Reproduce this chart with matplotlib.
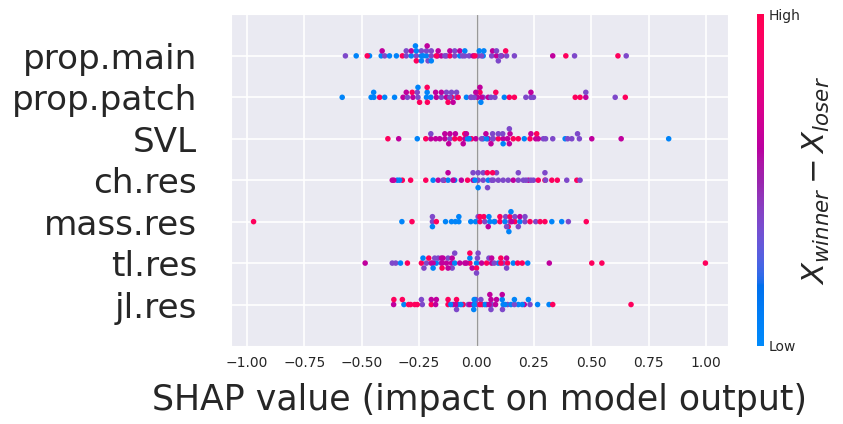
import numpy as np
import matplotlib
matplotlib.use("Agg")
import matplotlib.pyplot as plt
import seaborn as sns
from matplotlib.colors import LinearSegmentedColormap

sns.set_style("darkgrid")
plt.rcParams['font.family'] = ['DejaVu Sans']

# feature value levels (low -> high)
B, V, M, R = 0.05, 0.38, 0.62, 0.95

features = ["prop.main", "prop.patch", "SVL", "ch.res", "mass.res", "tl.res", "jl.res"]

shap_prop_main = [-0.571, -0.524, -0.466, -0.415, -0.400, -0.379, -0.349, -0.323, -0.306, -0.284,
                  -0.262, -0.240, -0.218, -0.197, -0.170, -0.153, -0.131, -0.116, -0.095, -0.073,
                  -0.051, -0.032, -0.015, 0.007, 0.029, 0.066, 0.087, 0.109, 0.131, 0.165, 0.332,
                  -0.476, -0.411, -0.306, -0.284, -0.262, -0.240, -0.218, -0.197, -0.175, -0.138,
                  -0.116, -0.095, -0.073, -0.051, -0.007, 0.022, 0.070, 0.087, 0.106, 0.127,
                  -0.262, -0.240, -0.211,
                  -0.266, -0.233, -0.215, -0.197, -0.167, -0.061, 0.012, 0.032, 0.095,
                  0.389, 0.427, 0.616, 0.652]
val_prop_main = [V, B, B, B, V, B, B, R, V, B, V, B, B, V, M, M, V, R, V, B, V, V, M, V, B, V, M, M, V, V, M,
                 R, M, V, M, B, V, V, V, R, V, M, V, M, B, R, V, M, V, V, R,
                 R, B, V,
                 B, B, M, B, M, V, B, B, V,
                 R, V, R, V]

shap_prop_patch = [-0.585, -0.459, -0.447, -0.422, -0.400, -0.357, -0.320, -0.301, -0.277, -0.255,
                   -0.218, -0.199, -0.175, -0.153, -0.131, -0.109, -0.087, -0.044, -0.022, 0.004,
                   0.029, 0.051, 0.080, 0.121, 0.143, 0.165, 0.215, 0.237, 0.248, 0.430, 0.451,
                   0.476, 0.604, 0.648,
                   -0.448, -0.306, -0.280, -0.258, -0.215, -0.178, -0.153, -0.131, -0.109, -0.087,
                   -0.010, 0.022, 0.063, 0.084, 0.237, 0.476,
                   -0.248, -0.214, -0.116, 0.015,
                   -0.255, -0.215, -0.124, -0.102, -0.080, -0.025, -0.003, 0.019,
                   0.015]
val_prop_patch = [B, B, B, R, B, B, M, V, M, V, B, B, M, V, M, R, V, B, V, M, V, M, V, B, R, R, V, V, V,
                  R, R, M, V, R,
                  B, M, R, V, B, M, M, V, V, V, V, M, V, R, M, V,
                  R, R, V, R,
                  B, R, R, M, R, V, M, B,
                  M]

shap_svl = [-0.386, -0.339, -0.258, -0.221, -0.199, -0.178, -0.160, -0.138, -0.116, -0.095,
            -0.073, -0.051, -0.039, -0.022, -0.003, 0.029, 0.051, 0.073, 0.095, 0.116,
            0.135, 0.160, 0.182, 0.208, 0.233, 0.258, 0.291, 0.332, 0.386, 0.415, 0.448,
            0.502, 0.630, 0.837,
            -0.199, -0.138, -0.116, -0.092, -0.051, -0.032, 0.022, 0.044, 0.070, 0.095,
            0.114, 0.237, 0.269, 0.301, 0.397, 0.440,
            0.070, 0.146,
            -0.121, -0.058, -0.044, 0.041, 0.063, 0.116, 0.143, 0.262,
            0.143]
val_svl = [R, M, B, R, M, M, M, M, V, R, R, M, B, R, M, B, M, V, R, M, M, R, R, B, R, M, V, V, B, V, V,
           M, M, B,
           V, M, M, M, R, B, V, B, V, V, V, M, M, V, V, V,
           V, M,
           M, M, M, M, M, B, M, R,
           V]

shap_ch_res = [-0.367, -0.345, -0.323, -0.287, -0.221, -0.189, -0.167, -0.141, -0.124, -0.095,
               -0.066, -0.039, -0.015, 0.007, 0.029, 0.051, 0.073, 0.095, 0.116, 0.138,
               0.160, 0.182, 0.204, 0.226, 0.248, 0.269, 0.298, 0.328, 0.352, 0.393, 0.437, 0.451,
               -0.360, -0.335, -0.146, -0.124, -0.102, -0.015, 0.007, 0.029, 0.066, 0.087,
               0.182, 0.215, 0.237, 0.298,
               0.047,
               -0.007, 0.007, 0.048, 0.070, 0.301]
val_ch_res = [M, B, R, R, R, B, M, R, B, B, M, R, M, V, V, B, V, V, V, V, M, V, V, M, V, R, R, R, R, V, R, V,
              M, B, V, M, M, V, V, V, V, V, V, V, V, V,
              R,
              B, B, V, R, V]

shap_mass_res = [-0.971, -0.325, -0.281, -0.192, -0.175, -0.135, -0.109, -0.092, -0.077, -0.025,
                 -0.004, 0.015, 0.036, 0.058, 0.080, 0.102, 0.124, 0.146, 0.167, 0.189,
                 0.211, 0.233, 0.258, 0.277, 0.298, 0.328, 0.371, 0.400, 0.478,
                 -0.192, -0.077, 0.007, 0.032, 0.054, 0.077, 0.102, 0.127, 0.146, 0.167, 0.189, 0.211,
                 0.138, 0.150,
                 -0.192, 0.015, 0.051, 0.131, 0.153, 0.182,
                 0.141]
val_mass_res = [R, B, R, V, R, B, B, B, B, B, B, R, V, B, V, R, B, V, R, B, V, R, V, R, R, B, B, V, R,
                V, B, V, R, B, B, R, V, R, V, M, V,
                R, B,
                B, R, M, V, M, V,
                B]

shap_tl_res = [-0.485, -0.367, -0.352, -0.331, -0.301, -0.240, -0.218, -0.197, -0.175, -0.153,
               -0.131, -0.109, -0.095, -0.073, -0.051, -0.029, 0.000, 0.022, 0.044, 0.066,
               0.095, 0.116, 0.135, 0.160, 0.179, 0.199, 0.223, 0.317, 0.502, 0.546, 0.997,
               -0.233, -0.208, -0.189, -0.167, -0.150, -0.124, -0.106, -0.029, 0.004, 0.054,
               0.077, 0.106, 0.131,
               -0.182, -0.146, -0.106, -0.044, -0.019, 0.000,
               -0.229, -0.189, -0.150, -0.124, -0.095, -0.029, 0.007, 0.066, 0.106, 0.131,
               -0.153, 0.000]
val_tl_res = [M, V, V, B, R, R, V, M, B, V, M, M, B, M, M, R, B, M, R, M, B, V, R, B, R, R, B, M, R, R, R,
              B, R, M, V, M, V, M, B, V, V, V, R, M,
              V, M, V, M, M, R,
              V, B, R, M, V, R, V, M, R, V,
              M, V]

shap_jl_res = [-0.361, -0.316, -0.296, -0.269, -0.236, -0.197, -0.178, -0.124, -0.102, -0.080,
               -0.058, -0.036, -0.015, 0.004, 0.025, 0.044, 0.066, 0.083, 0.116, 0.135,
               0.150, 0.182, 0.208, 0.233, 0.266, 0.316, 0.332, 0.673,
               -0.360, -0.323, -0.287, -0.258, -0.240, -0.197, -0.175, -0.124, -0.112, -0.090,
               -0.068, -0.029, -0.003, 0.019, 0.036, 0.063, 0.087, 0.124, 0.165, 0.199, 0.226,
               -0.087, -0.010, 0.063, 0.112,
               -0.087, -0.010, 0.015, 0.058, 0.113, 0.165,
               -0.012, 0.055, 0.112]
val_jl_res = [M, B, R, R, V, R, M, R, M, B, R, V, M, V, R, M, V, M, B, V, B, B, M, V, B, B, R, R,
              R, R, R, R, V, M, M, R, B, M, B, M, V, V, B, M, M, B, V, B, B,
              R, B, V, B,
              V, B, R, M, V, B,
              B, M, M]

shap_rows = [shap_prop_main, shap_prop_patch, shap_svl, shap_ch_res, shap_mass_res, shap_tl_res, shap_jl_res]
val_rows = [val_prop_main, val_prop_patch, val_svl, val_ch_res, val_mass_res, val_tl_res, val_jl_res]


def lch2rgb(l, c, h):
    a = c * np.cos(h)
    b = c * np.sin(h)
    fy = (l + 16) / 116
    fx = fy + a / 500
    fz = fy - b / 200

    def finv(t):
        return t ** 3 if t ** 3 > 0.008856 else (t - 16 / 116) / 7.787

    xyz = np.array([0.95047 * finv(fx), finv(fy), 1.08883 * finv(fz)])
    m = np.array([[3.2406, -1.5372, -0.4986],
                  [-0.9689, 1.8758, 0.0415],
                  [0.0557, -0.2040, 1.0570]])
    rgb = m @ xyz
    rgb = np.where(rgb > 0.0031308, 1.055 * np.abs(rgb) ** (1 / 2.4) - 0.055, 12.92 * rgb)
    return np.clip(rgb, 0, 1)


# shap style red/blue map
nsteps = 100
l_vals = list(np.linspace(54., 40., nsteps // 2)) + list(np.linspace(40., 54., nsteps // 2))
c_vals = np.linspace(70., 90., nsteps)
h_vals = np.linspace(4.6588, 0.35470565 + 2 * np.pi, nsteps)
cols = [lch2rgb(l, c, h) for l, c, h in zip(l_vals, c_vals, h_vals)]
red_blue = LinearSegmentedColormap.from_list("red_blue", cols)


def beeswarm(shaps, row_height=0.4, nbins=100):
    shaps = np.asarray(shaps)
    quant = np.round(nbins * (shaps - shaps.min()) / (shaps.max() - shaps.min() + 1e-8))
    inds = np.argsort(quant, kind="stable")
    layer = 0
    last_bin = -1
    ys = np.zeros(len(shaps))
    for ind in inds:
        if quant[ind] != last_bin:
            layer = 0
        ys[ind] = np.ceil(layer / 2) * ((layer % 2) * 2 - 1)
        layer += 1
        last_bin = quant[ind]
    ys *= 0.9 * (row_height / np.max(ys + 1))
    return ys


fig = plt.figure(figsize=(8.43, 4.24), dpi=100)
ax = fig.add_axes([0.274, 0.184, 0.5896, 0.782])
cax = fig.add_axes([0.898, 0.184, 0.0083, 0.782])

n = len(features)
for i, (shaps, vals) in enumerate(zip(shap_rows, val_rows)):
    pos = n - 1 - i
    ys = beeswarm(shaps)
    ax.scatter(shaps, pos + ys, c=vals, cmap=red_blue, vmin=0, vmax=1,
               s=16, linewidth=0, alpha=1, zorder=3)

ax.axvline(0, color="#999999", lw=1, zorder=2)
ax.grid(True, color="white", lw=1.2)
ax.set_ylim(-1, n)
ax.set_yticks(range(n))
ax.set_yticklabels(features[::-1])
ax.set_xticks(np.arange(-1, 1.01, 0.25))
ax.tick_params(axis="y", labelsize=24.7, length=0, pad=24.5, colors="#262626")
ax.tick_params(axis="x", labelsize=10, length=4, width=1, color="#262626", labelcolor="#262626")
ax.set_xlabel("SHAP value (impact on model output)", fontsize=25, color="#262626", labelpad=9)

sm = plt.cm.ScalarMappable(cmap=red_blue, norm=plt.Normalize(0, 1))
cb = fig.colorbar(sm, cax=cax, ticks=[0, 1])
cb.set_ticklabels(["Low", "High"])
cb.ax.tick_params(labelsize=10, length=0, colors="#262626")
cb.outline.set_visible(False)
cb.set_label(r"$X_{winner} - X_{loser}$", size=22, labelpad=0, color="#262626")

fig.savefig("out.png", dpi=100)
